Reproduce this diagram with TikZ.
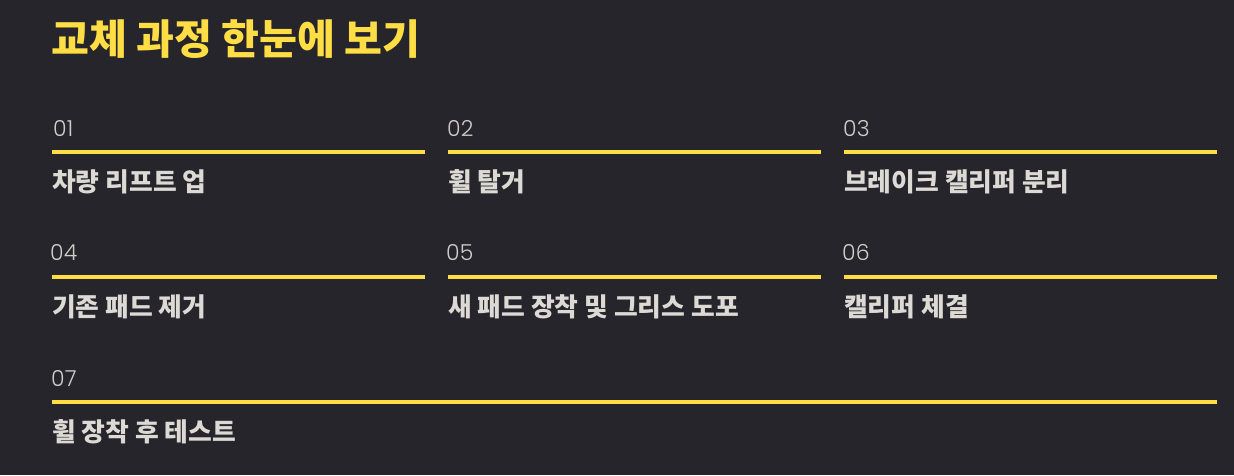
\documentclass[tikz,border=0pt]{standalone}
\usepackage{fontspec}
\setmainfont{Noto Sans CJK KR}
\newfontfamily\numfont{Poppins Light}
\definecolor{bgdark}{HTML}{26252B}
\definecolor{stepyellow}{HTML}{FFDD44}
\definecolor{labelgray}{HTML}{DCDAD4}
\definecolor{numgray}{HTML}{D0CEC9}
\begin{document}
\begin{tikzpicture}[x=1pt, y=-1pt,
    every node/.style={inner sep=0pt, anchor=base west},
    stepnum/.style={text=numgray, font=\numfont\fontsize{22}{22}\selectfont},
    steplabel/.style={text=labelgray, font=\bfseries\fontsize{25.8}{25.8}\selectfont},
    stepline/.style={draw=stepyellow, line width=4pt}]

    \fill[bgdark] (0,0) rectangle (1234,475);
    \useasboundingbox (0,0) rectangle (1234,475);

    \node[text=stepyellow, font=\bfseries\fontsize{41.2}{41.2}\selectfont] (title) at (51,54) {교체 과정 한눈에 보기};

    % row 1
    \node[stepnum] (n1) at (53,136) {01};
    \node[stepnum] (n2) at (447,136) {02};
    \node[stepnum] (n3) at (843,136) {03};
    \draw[stepline] (52,152) -- (425,152);
    \draw[stepline] (448,152) -- (821,152);
    \draw[stepline] (844,152) -- (1217,152);
    \node[steplabel] (l1) at (52,191) {차량 리프트 업};
    \node[steplabel] (l2) at (448,191) {휠 탈거};
    \node[steplabel] (l3) at (844,191) {브레이크 캘리퍼 분리};

    % row 2
    \node[stepnum] (n4) at (50,260) {04};
    \node[stepnum] (n5) at (446,260) {05};
    \node[stepnum] (n6) at (842,260) {06};
    \draw[stepline] (52,277) -- (425,277);
    \draw[stepline] (448,277) -- (821,277);
    \draw[stepline] (844,277) -- (1217,277);
    \node[steplabel] (l4) at (52,316) {기존 패드 제거};
    \node[steplabel] (l5) at (448,316) {새 패드 장착 및 그리스 도포};
    \node[steplabel] (l6) at (844,316) {캘리퍼 체결};

    % row 3
    \node[stepnum] (n7) at (51,386) {07};
    \draw[stepline] (52,402) -- (1217,402);
    \node[steplabel] (l7) at (52,441) {휠 장착 후 테스트};

\end{tikzpicture}
\end{document}
